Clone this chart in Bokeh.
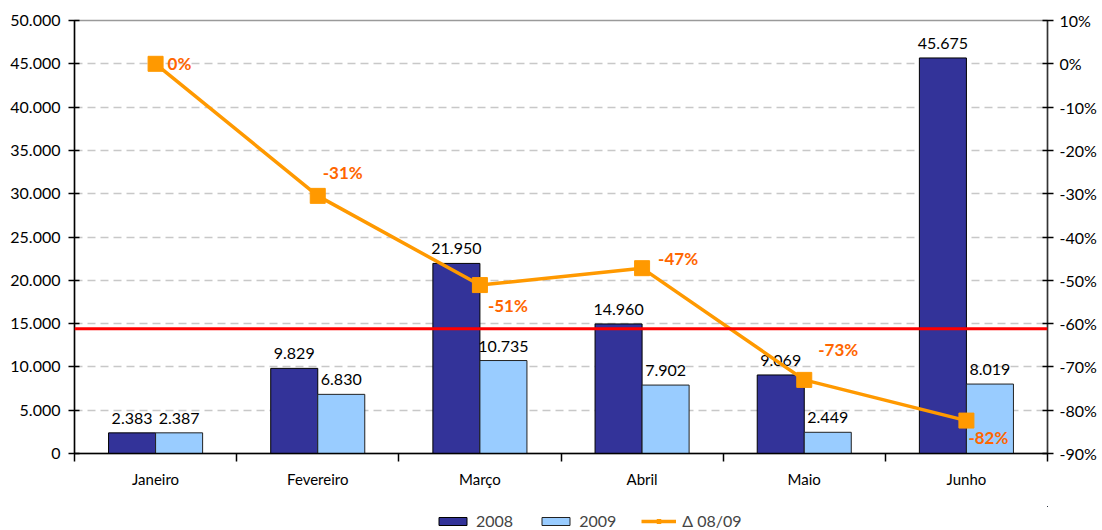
from bokeh.plotting import figure
from bokeh.layouts import column
from bokeh.models import (ColumnDataSource, Range1d, LinearAxis, FixedTicker,
                          Span, Legend, LegendItem, Grid)
from bokeh.transform import dodge
from bokeh.core.properties import value
from bokeh.embed import file_html
from bokeh.resources import INLINE

# ---- data ----
months = ["Janeiro", "Fevereiro", "Março", "Abril", "Maio", "Junho"]
v2008 = [2383, 9829, 21950, 14960, 9069, 45675]
v2009 = [2387, 6830, 10735, 7902, 2449, 8019]
delta = [0.0, -0.305, -0.511, -0.472, -0.730, -0.824]
delta_labels = ["0%", "-31%", "-51%", "-47%", "-73%", "-82%"]
left_ticks = [0, 5000, 10000, 15000, 20000, 25000, 30000, 35000, 40000, 45000, 50000]
left_tick_labels = ["0", "5.000", "10.000", "15.000", "20.000", "25.000", "30.000",
                    "35.000", "40.000", "45.000", "50.000"]
right_ticks = [-0.9, -0.8, -0.7, -0.6, -0.5, -0.4, -0.3, -0.2, -0.1, 0.0, 0.1]
right_tick_labels = ["-90%", "-80%", "-70%", "-60%", "-50%", "-40%", "-30%", "-20%",
                     "-10%", "0%", "10%"]
reference_level = 14400
series_names = ["2008", "2009", "Δ 08/09"]

# label placement (styling only)
lab_dx = [12, 5, 8, 16, 14, 2]
lab_dy = [0, -23, 20, -10, -30, 17]

def fmt(v):
    return f"{v:,}".replace(",", ".")

n = len(months)
centers = [i + 0.5 for i in range(n)]
bounds = [float(i) for i in range(n + 1)]

src = ColumnDataSource(dict(
    x=centers, month=months, v2008=v2008, v2009=v2009,
    l2008=[fmt(v) for v in v2008], l2009=[fmt(v) for v in v2009],
    delta=delta, dlab=delta_labels, dx=lab_dx, dy=lab_dy,
))

FONT = "Lato"
C08 = "#333399"
C09 = "#99CCFF"
CLINE = "#FF9900"
CLAB = "#FF6600"

p = figure(x_range=Range1d(0, n), y_range=Range1d(0, 50000),
           width=1102, height=506, output_backend="svg", toolbar_location=None,
           x_axis_location=None, y_axis_location=None,
           min_border_left=74, min_border_right=55, min_border_top=20, min_border_bottom=53)
p.extra_y_ranges = {"pct": Range1d(-0.9, 0.1)}
for g in p.grid:
    g.visible = False
p.outline_line_color = "#9A9A9A"
p.outline_line_width = 1.5
p.background_fill_color = "white"
p.border_fill_color = "white"

# grid
p.add_layout(Grid(dimension=1, ticker=FixedTicker(ticks=left_ticks[1:-1]),
                  grid_line_dash="8 5", grid_line_color="#C8C8C8", grid_line_width=1.5))

# left axis
la = LinearAxis(ticker=FixedTicker(ticks=left_ticks),
                major_label_overrides={t: s for t, s in zip(left_ticks, left_tick_labels)},
                major_tick_in=5, major_tick_out=6, minor_tick_line_color=None,
                axis_line_color="black", axis_line_width=1.5, major_tick_line_width=1.5,
                major_label_text_font=FONT, major_label_text_font_size="16px",
                major_label_text_color="black", major_label_standoff=8)
p.add_layout(la, "left")

# right axis
ra = LinearAxis(y_range_name="pct", ticker=FixedTicker(ticks=right_ticks),
                major_label_overrides={t: s for t, s in zip(right_ticks, right_tick_labels)},
                major_tick_in=5, major_tick_out=6, minor_tick_line_color=None,
                axis_line_color="#333333", axis_line_width=1.5, major_tick_line_width=1.5,
                major_label_text_font=FONT, major_label_text_font_size="16px",
                major_label_text_color="black", major_label_standoff=6)
p.add_layout(ra, "right")

# bottom axis: labels at category centres, tick marks at boundaries
ba = LinearAxis(ticker=FixedTicker(ticks=centers, minor_ticks=bounds),
                major_label_overrides={c: m for c, m in zip(centers, months)},
                major_tick_line_color=None, major_tick_in=0, major_tick_out=8,
                minor_tick_in=0, minor_tick_out=8, minor_tick_line_color="black",
                minor_tick_line_width=1.5,
                axis_line_color="black", axis_line_width=1.5,
                major_label_text_font=FONT, major_label_text_font_size="15px",
                major_label_text_color="black", major_label_standoff=8)
p.add_layout(ba, "below")

# bars
b08 = p.vbar(x=dodge("x", -0.145), top="v2008", width=0.29, source=src,
             fill_color=C08, line_color="black", line_width=1)
b09 = p.vbar(x=dodge("x", 0.145), top="v2009", width=0.29, source=src,
             fill_color=C09, line_color="#222222", line_width=1)

p.text(x=dodge("x", -0.145), y="v2008", text="l2008", source=src,
       text_align="center", text_baseline="bottom", y_offset=-9,
       text_font=value(FONT), text_font_size="16px", text_color="black")
p.text(x=dodge("x", 0.145), y="v2009", text="l2009", source=src,
       text_align="center", text_baseline="bottom", y_offset=-9,
       text_font=value(FONT), text_font_size="16px", text_color="black")

# reference line
p.add_layout(Span(location=reference_level, dimension="width", line_color="#FF0000", line_width=3))

# delta line
ln = p.line(x="x", y="delta", y_range_name="pct", source=src,
            line_color=CLINE, line_width=3.5)
sc = p.scatter(x="x", y="delta", y_range_name="pct", source=src, marker="square",
               size=15, fill_color=CLINE, line_color=CLINE)
p.text(x="x", y="delta", y_range_name="pct", text="dlab", source=src,
       x_offset="dx", y_offset="dy", text_align="left", text_baseline="middle",
       text_font=value(FONT), text_font_size="17px", text_font_style="bold", text_color=CLAB)

# ---- legend strip (separate small figure below the chart) ----
# its proxy renderers use the same data but lie outside this strip's ranges, so only
# the legend itself is visible
lf = figure(width=1102, height=24, x_range=Range1d(-30, -20), y_range=Range1d(-30, -20),
            output_backend="svg", toolbar_location=None,
            x_axis_location=None, y_axis_location=None, min_border=0)
for g in lf.grid:
    g.visible = False
lf.outline_line_color = None
lf.border_fill_color = "white"
r08 = lf.vbar(x="x", top="v2008", width=0.1, source=src, fill_color=C08,
              line_color="black", line_width=1)
r09 = lf.vbar(x="x", top="v2009", width=0.1, source=src, fill_color=C09,
              line_color="#222222", line_width=1)
rl = lf.line(x="x", y="delta", source=src, line_color=CLINE, line_width=3.5)
rs = lf.scatter(x="x", y="delta", source=src, marker="square", size=11,
                fill_color=CLINE, line_color=CLINE)
legend = Legend(items=[LegendItem(label=series_names[0], renderers=[r08]),
                       LegendItem(label=series_names[1], renderers=[r09]),
                       LegendItem(label=series_names[2], renderers=[rl, rs])],
                orientation="horizontal", location=(361, 0), border_line_color=None,
                background_fill_alpha=0, glyph_width=35, glyph_height=10,
                label_text_font=FONT, label_text_font_size="16px", label_standoff=6,
                spacing=25, padding=2, margin=0)
lf.add_layout(legend, "center")

layout = column(p, lf, spacing=0)
open("out.html", "w").write(file_html(layout, INLINE))
